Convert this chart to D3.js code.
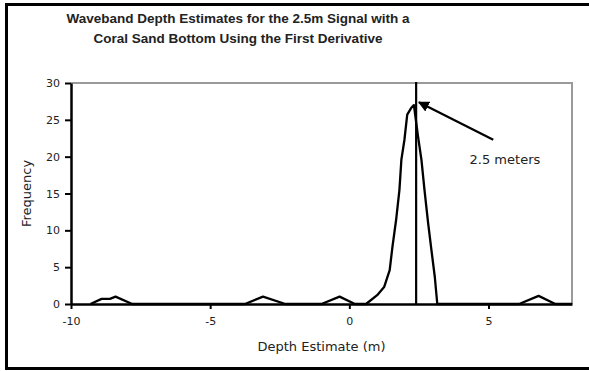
<!DOCTYPE html>
<html>
<head>
<meta charset="utf-8">
<script src="https://cdn.jsdelivr.net/npm/d3@7"></script>
<style>
  html, body { margin: 0; background: #fff; overflow: hidden; }
  svg { display: block; }
  svg text { fill: #222; }
</style>
</head>
<body>
<svg id="chart" width="589" height="371"></svg>
<script>
// depth estimate (m) and frequency
var depth = [-9.3, -8.9, -8.6, -8.4, -7.8, -3.75, -3.1, -2.3, -1.0, -0.35, 0.2, 0.6,
             1.0, 1.25, 1.45, 1.55, 1.68, 1.8, 1.87, 1.98, 2.08, 2.22, 2.32,
             2.47, 2.59, 2.7, 2.83, 2.95, 3.07, 3.16, 6.1, 6.8, 7.4, 8.0];
var freq  = [0, 0.7, 0.7, 1.0, 0, 0, 1.0, 0, 0, 1.0, 0, 0,
             1.2, 2.3, 4.6, 7.8, 11.4, 15.5, 19.6, 22.3, 25.7, 26.6, 27.0,
             22.7, 19.6, 15.5, 11.0, 7.3, 3.7, 0, 0, 1.1, 0, 0];
var xTicks = [-10, -5, 0, 5];
var yTicks = [0, 5, 10, 15, 20, 25, 30];
var trueDepth = 2.4;
var titleLines = ["Waveband Depth Estimates for the 2.5m Signal with a",
                  "Coral Sand Bottom Using the First Derivative"];

var svg = d3.select('#chart');

// outer frame (right edge falls outside the picture)
svg.append('path')
  .attr('d', 'M600,4.5H6.5V368.5H600')
  .attr('fill', 'none').attr('stroke', '#000').attr('stroke-width', 3);

var x = d3.scaleLinear().domain([-10, 8]).range([71, 572]);
var y = d3.scaleLinear().domain([0, 30]).range([304, 83]);

// plot area border (top/right grey)
svg.append('path')
  .attr('d', 'M' + x(-10) + ',' + y(30) + 'H' + x(8) + 'V' + y(0))
  .attr('fill', 'none').attr('stroke', '#9a9a9a').attr('stroke-width', 2);

var xAxis = d3.axisBottom(x).tickValues(xTicks).tickSize(5).tickSizeOuter(0).tickPadding(8);
var yAxis = d3.axisLeft(y).tickValues(yTicks).tickSize(6).tickSizeOuter(0).tickPadding(5);

var gx = svg.append('g').attr('transform', 'translate(0,' + y(0) + ')').call(xAxis);
var gy = svg.append('g').attr('transform', 'translate(' + x(-10) + ',0)').call(yAxis);
[gx, gy].forEach(function(g) {
  g.select('.domain').attr('stroke', '#000').attr('stroke-width', 2.5);
  g.selectAll('.tick line').attr('stroke', '#000').attr('stroke-width', 2);
  g.selectAll('.tick text')
    .style('font-family', '"DejaVu Sans", sans-serif')
    .style('font-size', '11px').attr('fill', '#222');
});
gx.selectAll('.tick text').text(function(d) { return d < 0 ? '-' + Math.abs(d) : d; });

// curve
var line = d3.line()
  .x(function(d, i) { return x(depth[i]); })
  .y(function(d, i) { return y(freq[i]); });
svg.append('path')
  .datum(depth)
  .attr('d', line)
  .attr('fill', 'none').attr('stroke', '#000')
  .attr('stroke-width', 2.3).attr('stroke-linejoin', 'round');

// vertical marker
svg.append('line')
  .attr('x1', x(trueDepth)).attr('x2', x(trueDepth))
  .attr('y1', y(0)).attr('y2', y(30) - 1)
  .attr('stroke', '#000').attr('stroke-width', 2.2);

// arrow annotation
svg.append('defs').append('marker')
  .attr('id', 'head').attr('viewBox', '0 0 10 10')
  .attr('refX', 9).attr('refY', 5)
  .attr('markerWidth', 5).attr('markerHeight', 5)
  .attr('orient', 'auto')
  .append('path').attr('d', 'M0,0L10,5L0,10z').attr('fill', '#000');

svg.append('line')
  .attr('x1', x(5.17)).attr('y1', y(22.3))
  .attr('x2', x(2.5)).attr('y2', y(27.4))
  .attr('stroke', '#000').attr('stroke-width', 2.2)
  .attr('marker-end', 'url(#head)');

svg.append('text')
  .attr('x', x(4.32)).attr('y', y(19.0))
  .style('font-family', '"DejaVu Sans", sans-serif')
  .style('font-size', '13px')
  .text('2.5 meters');

// titles
svg.selectAll('.title').data(titleLines).enter().append('text')
  .attr('class', 'title')
  .attr('x', 238).attr('y', function(d, i) { return 23 + i * 20; })
  .attr('text-anchor', 'middle')
  .style('font-family', '"Liberation Sans", Arial, sans-serif')
  .style('font-weight', 'bold').style('font-size', '13.5px')
  .text(function(d) { return d; });

svg.append('text')
  .attr('x', (x(-10) + x(8)) / 2).attr('y', 351)
  .attr('text-anchor', 'middle')
  .style('font-family', '"DejaVu Sans", sans-serif').style('font-size', '13px')
  .text('Depth Estimate (m)');

svg.append('text')
  .attr('transform', 'translate(31,' + ((y(0) + y(30)) / 2) + ') rotate(-90)')
  .attr('text-anchor', 'middle')
  .style('font-family', '"DejaVu Sans", sans-serif').style('font-size', '13px')
  .text('Frequency');
</script>
</body>
</html>
